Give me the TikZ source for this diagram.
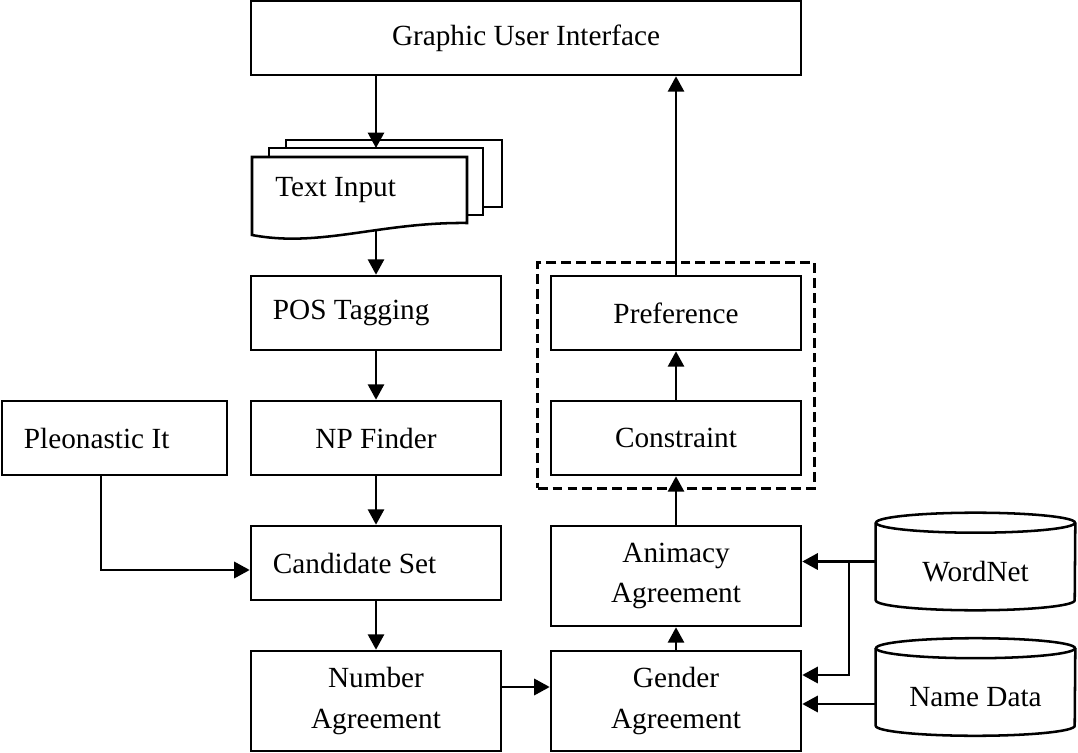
\documentclass[tikz,border=0pt]{standalone}
\usepackage{fontspec}
\setmainfont{Liberation Serif}
\usetikzlibrary{shapes,calc,positioning,arrows.meta,fit}

\begin{document}
\begin{tikzpicture}[x=0.025cm,y=-0.025cm,
  every node/.style={font=\fontsize{20.8}{28.5}\selectfont},
  blk/.style={draw, line width=1.8pt, minimum width=6.25cm, minimum height=1.85cm, align=center, inner sep=0pt},
  lblk/.style={blk, text width=5.15cm, align=flush left, inner xsep=0.55cm},
  tall/.style={minimum height=2.5cm},
  dbase/.style={minimum width=4.975cm, minimum height=2.425cm, inner sep=0pt},
  dashbox/.style={draw, line width=1.9pt, dash pattern=on 7pt off 3.6pt, inner sep=0.3cm},
  arr/.style={line width=1.8pt, -{Triangle[length=11pt,width=11.5pt]}}]
\useasboundingbox (0,0) rectangle (1078,753);

% left column
\node[blk, minimum width=13.75cm] (gui) at (526,38) {Graphic User Interface};
\draw[line width=1.8pt, fill=white] (286,140) rectangle (502,207);
\draw[line width=1.8pt, fill=white] (269,148) rectangle (483,215);
\draw[line width=1.8pt, fill=white] (252,157) -- (467,157) -- (467,223) .. controls (380,222) and (320,248) .. (252,235) -- cycle;
\node[anchor=base west, inner sep=0pt] (txt) at (275,197) {Text Input};
\coordinate (doctop) at (376,148);
\coordinate (docbot) at (376,231);
\node[lblk] (pos) at (376,313) {POS Tagging};
\node[blk] (np) at (376,438) {NP Finder};
\node[lblk] (cand) at (376,563) {Candidate Set};
\node[blk, tall] (num) at (376,701) {Number\\Agreement};
\node[lblk, minimum width=5.625cm, text width=4.525cm] (pleo) at (114.5,438) {Pleonastic It};

% right column
\node[blk] (pref) at (676,313) {Preference};
\node[blk] (cons) at (676,438) {Constraint};
\node[blk, tall] (anim) at (676,576) {Animacy\\Agreement};
\node[blk, tall] (gend) at (676,701) {Gender\\Agreement};
\node[dashbox, fit=(pref)(cons)] (grp) {};

% databases
\node[dbase] (wn) at (975.5,561.5) {};
\draw[line width=1.8pt] ($(wn.north west)+(0,10)$) -- ($(wn.south west)+(0,-10)$) arc[start angle=180, end angle=0, x radius=99.5, y radius=10] -- ($(wn.north east)+(0,10)$);
\draw[line width=1.8pt] ($(wn.north)+(0,10)$) ellipse[x radius=99.5, y radius=10];
\node (wnt) at ($(wn)+(0,10)$) {WordNet};
\node[dbase] (nd) at (975.5,687) {};
\draw[line width=1.8pt] ($(nd.north west)+(0,10)$) -- ($(nd.south west)+(0,-10)$) arc[start angle=180, end angle=0, x radius=99.5, y radius=10] -- ($(nd.north east)+(0,10)$);
\draw[line width=1.8pt] ($(nd.north)+(0,10)$) ellipse[x radius=99.5, y radius=10];
\node (ndt) at ($(nd)+(0,10)$) {Name Data};

% connectors
\draw[arr] (gui.south -| doctop) -- (doctop);
\draw[arr] (docbot) -- (pos.north);
\draw[arr] (pos) -- (np);
\draw[arr] (np) -- (cand);
\draw[arr] (cand) -- (num);
\draw[arr] ($(pleo.south)+(-13.5,0)$) |- ($(cand.west)+(0,7)$);
\draw[arr] ($(num.east)+(0,-14)$) -- ($(gend.west)+(0,-14)$);
\draw[arr] (gend) -- (anim);
\draw[arr] (anim) -- (cons);
\draw[arr] (cons) -- (pref);
\draw[arr] (pref.north) -- (pref.north |- gui.south);
\coordinate (br) at (849,561.5);
\draw[arr] (wn.west) -- (wn.west -| anim.east);
\draw[arr] (br) |- ($(gend.east)+(0,-26)$);
\draw[arr] ($(nd.west)+(0,17)$) -- ($(gend.east)+(0,3)$);
\end{tikzpicture}
\end{document}
